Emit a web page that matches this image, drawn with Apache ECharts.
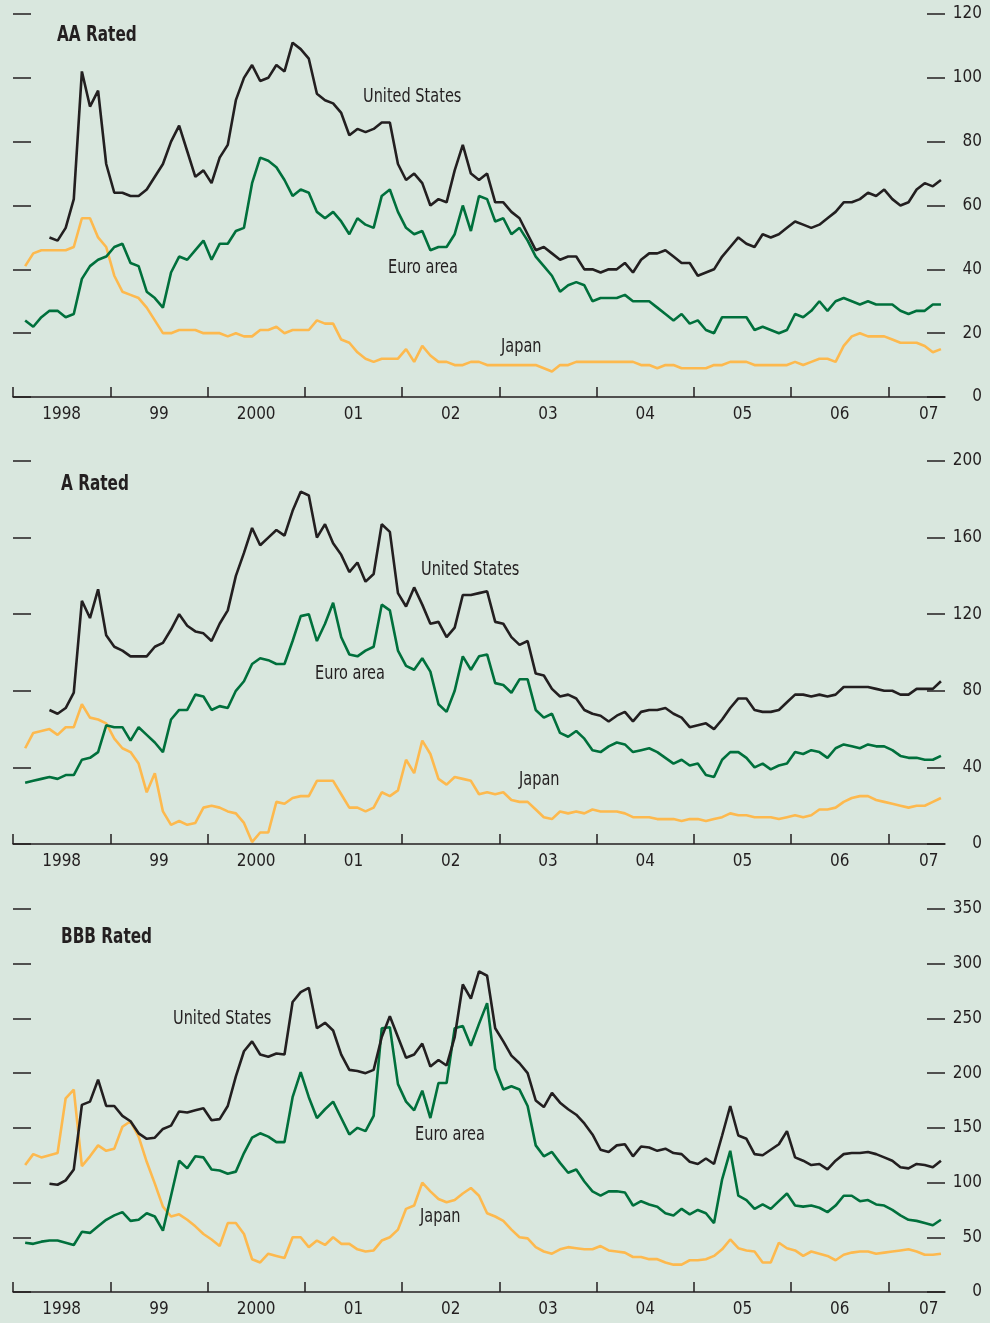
<!DOCTYPE html>
<html>
<head>
<meta charset="utf-8">
<script src="https://cdn.jsdelivr.net/npm/echarts@6.0.0/dist/echarts.min.js"></script>
<style>
  html, body { margin: 0; padding: 0; background: #d9e7de; }
  #chart { width: 990px; height: 1323px; }
</style>
</head>
<body>
<div id="chart"></div>
<script>
// months counted from Jan 1998 (0) to Jul 2007 (114)
const yearLabels = ['1998', '99', '2000', '01', '02', '03', '04', '05', '06', '07'];
const yearLabelPos = [6, 18, 30, 42, 54, 66, 78, 90, 102, 113];
const yearTicks = [0, 12, 24, 36, 48, 60, 72, 84, 96, 108];

// US series start May 1998 (index 4), euro and japan start Feb 1998 (index 1)
const usStart = 4;
const otherStart = 1;

// AA rated
const usAA = [50, 49, 53, 62, 102, 91, 96, 73, 64, 64,
  63, 63, 65, 69, 73, 80, 85, 77, 69, 71,
  67, 75, 79, 93, 100, 104, 99, 100, 104, 102,
  111, 109, 106, 95, 93, 92, 89, 82, 84, 83,
  84, 86, 86, 73, 68, 70, 67, 60, 62, 61,
  71, 79, 70, 68, 70, 61, 61, 58, 56, 51,
  46, 47, 45, 43, 44, 44, 40, 40, 39, 40,
  40, 42, 39, 43, 45, 45, 46, 44, 42, 42,
  38, 39, 40, 44, 47, 50, 48, 47, 51, 50,
  51, 53, 55, 54, 53, 54, 56, 58, 61, 61,
  62, 64, 63, 65, 62, 60, 61, 65, 67, 66, 68];
const euroAA = [24, 22, 25, 27, 27, 25, 26, 37, 41, 43,
  44, 47, 48, 42, 41, 33, 31, 28, 39, 44,
  43, 46, 49, 43, 48, 48, 52, 53, 67, 75,
  74, 72, 68, 63, 65, 64, 58, 56, 58, 55,
  51, 56, 54, 53, 63, 65, 58, 53, 51, 52,
  46, 47, 47, 51, 60, 52, 63, 62, 55, 56,
  51, 53, 49, 44, 41, 38, 33, 35, 36, 35,
  30, 31, 31, 31, 32, 30, 30, 30, 28, 26,
  24, 26, 23, 24, 21, 20, 25, 25, 25, 25,
  21, 22, 21, 20, 21, 26, 25, 27, 30, 27,
  30, 31, 30, 29, 30, 29, 29, 29, 27, 26,
  27, 27, 29, 29];
const japanAA = [41, 45, 46, 46, 46, 46, 47, 56, 56, 50,
  47, 38, 33, 32, 31, 28, 24, 20, 20, 21,
  21, 21, 20, 20, 20, 19, 20, 19, 19, 21,
  21, 22, 20, 21, 21, 21, 24, 23, 23, 18,
  17, 14, 12, 11, 12, 12, 12, 15, 11, 16,
  13, 11, 11, 10, 10, 11, 11, 10, 10, 10,
  10, 10, 10, 10, 9, 8, 10, 10, 11, 11,
  11, 11, 11, 11, 11, 11, 10, 10, 9, 10,
  10, 9, 9, 9, 9, 10, 10, 11, 11, 11,
  10, 10, 10, 10, 10, 11, 10, 11, 12, 12,
  11, 16, 19, 20, 19, 19, 19, 18, 17, 17,
  17, 16, 14, 15];

// A rated
const usA = [70, 68, 71, 79, 127, 118, 133, 109, 103, 101,
  98, 98, 98, 103, 105, 112, 120, 114, 111, 110,
  106, 115, 122, 140, 152, 165, 156, 160, 164, 161,
  174, 184, 182, 160, 167, 157, 151, 142, 147, 137,
  141, 167, 163, 131, 124, 134, 125, 115, 116, 108,
  113, 130, 130, 131, 132, 116, 115, 108, 104, 106,
  89, 88, 81, 77, 78, 76, 70, 68, 67, 64,
  67, 69, 64, 69, 70, 70, 71, 68, 66, 61,
  62, 63, 60, 65, 71, 76, 76, 70, 69, 69,
  70, 74, 78, 78, 77, 78, 77, 78, 82, 82,
  82, 82, 81, 80, 80, 78, 78, 81, 81, 81, 85];
const euroA = [32, 33, 34, 35, 34, 36, 36, 44, 45, 48,
  62, 61, 61, 54, 61, 57, 53, 48, 65, 70,
  70, 78, 77, 70, 72, 71, 80, 85, 94, 97,
  96, 94, 94, 106, 119, 120, 106, 115, 126, 108,
  99, 98, 101, 103, 125, 122, 101, 93, 91, 97,
  90, 73, 69, 80, 98, 91, 98, 99, 84, 83,
  79, 86, 86, 70, 66, 68, 58, 56, 59, 55,
  49, 48, 51, 53, 52, 48, 49, 50, 48, 45,
  42, 44, 41, 42, 36, 35, 44, 48, 48, 45,
  40, 42, 39, 41, 42, 48, 47, 49, 48, 45,
  50, 52, 51, 50, 52, 51, 51, 49, 46, 45,
  45, 44, 44, 46];
const japanA = [50, 58, 59, 60, 57, 61, 61, 73, 66, 65,
  63, 55, 50, 48, 42, 27, 37, 17, 10, 12,
  10, 11, 19, 20, 19, 17, 16, 11, 1, 6,
  6, 22, 21, 24, 25, 25, 33, 33, 33, 26,
  19, 19, 17, 19, 27, 25, 28, 44, 37, 54,
  47, 34, 31, 35, 34, 33, 26, 27, 26, 27,
  23, 22, 22, 18, 14, 13, 17, 16, 17, 16,
  18, 17, 17, 17, 16, 14, 14, 14, 13, 13,
  13, 12, 13, 13, 12, 13, 14, 16, 15, 15,
  14, 14, 14, 13, 14, 15, 14, 15, 18, 18,
  19, 22, 24, 25, 25, 23, 22, 21, 20, 19,
  20, 20, 22, 24];

// BBB rated
const usBBB = [99, 98, 102, 112, 171, 174, 194, 170, 170, 161,
  156, 145, 140, 141, 149, 152, 165, 164, 166, 168,
  157, 158, 170, 197, 220, 229, 217, 215, 218, 217,
  265, 274, 278, 241, 246, 239, 217, 203, 202, 200,
  203, 233, 252, 233, 214, 217, 227, 206, 212, 207,
  233, 281, 268, 293, 289, 241, 229, 216, 209, 200,
  175, 169, 182, 173, 167, 162, 154, 144, 130, 128,
  134, 135, 124, 133, 132, 129, 131, 127, 126, 119,
  117, 122, 117, 143, 170, 143, 140, 126, 125, 130,
  135, 147, 123, 120, 116, 117, 112, 120, 126, 127,
  127, 128, 126, 123, 120, 114, 113, 117, 116, 114, 120];
const euroBBB = [45, 44, 46, 47, 47, 45, 43, 55, 54, 60,
  66, 70, 73, 65, 66, 72, 69, 56, 88, 120,
  113, 124, 123, 112, 111, 108, 110, 127, 141, 145,
  142, 137, 137, 178, 201, 178, 159, 167, 174, 159,
  144, 150, 147, 161, 241, 242, 190, 174, 166, 184,
  159, 191, 191, 241, 243, 225, 245, 264, 204, 185,
  188, 185, 170, 134, 124, 128, 118, 109, 112, 101,
  92, 88, 92, 92, 91, 79, 83, 80, 78, 72,
  70, 76, 71, 75, 72, 63, 103, 129, 88, 84,
  76, 80, 76, 83, 90, 79, 78, 79, 77, 73,
  79, 88, 88, 83, 84, 80, 79, 75, 70, 66,
  65, 63, 61, 66];
const japanBBB = [116, 126, 123, 125, 127, 177, 185, 115, 124, 134,
  129, 131, 151, 156, 142, 119, 99, 78, 69, 71,
  66, 60, 53, 48, 42, 63, 63, 53, 30, 27,
  35, 33, 31, 50, 50, 41, 47, 43, 50, 44,
  44, 39, 37, 38, 47, 50, 57, 76, 79, 100,
  92, 85, 82, 84, 90, 95, 88, 72, 69, 65,
  57, 50, 49, 41, 37, 35, 39, 41, 40, 39,
  39, 42, 38, 37, 36, 32, 32, 30, 30, 27,
  25, 25, 29, 29, 30, 33, 39, 48, 40, 38,
  37, 27, 27, 45, 40, 38, 33, 37, 35, 33,
  29, 34, 36, 37, 37, 35, 36, 37, 38, 39,
  37, 34, 34, 35];

const ink = '#231f20';
const usColor = '#231f20';
const euroColor = '#00703c';
const japanColor = '#fdb94e';
const font = '"DejaVu Sans Condensed", "DejaVu Sans", sans-serif';

function toPoints(start, values) {
  return values.map((v, i) => [start + i + 0.5, v]);
}

const panels = [
  {title: 'AA Rated', top: 14, max: 120, interval: 20, us: usAA, euro: euroAA, japan: japanAA,
    titlePos: [57, 36], usLabel: [363, 97], euroLabel: [388, 268], japanLabel: [501, 347]},
  {title: 'A Rated', top: 461, max: 200, interval: 40, us: usA, euro: euroA, japan: japanA,
    titlePos: [61, 485], usLabel: [421, 570], euroLabel: [315, 674], japanLabel: [519, 780]},
  {title: 'BBB Rated', top: 909, max: 350, interval: 50, us: usBBB, euro: euroBBB, japan: japanBBB,
    titlePos: [61, 938], usLabel: [173, 1019], euroLabel: [415, 1135], japanLabel: [420, 1217]}
];

const grid = [], xAxis = [], yAxis = [], series = [], graphic = [];

panels.forEach((p, i) => {
  grid.push({left: 13, right: 45, top: p.top, height: 383, outerBoundsMode: 'none'});
  xAxis.push({
    type: 'value', gridIndex: i, min: 0, max: 115,
    splitLine: {show: false},
    axisLine: {show: true, lineStyle: {color: ink, width: 1.5}},
    axisTick: {show: true, inside: true, length: 10, customValues: yearTicks, lineStyle: {color: ink, width: 1.5}},
    axisLabel: {
      customValues: yearLabelPos, margin: 9, color: ink, fontSize: 17, fontFamily: font,
      formatter: v => yearLabels[yearLabelPos.indexOf(v)] || ''
    }
  });
  // left axis: tick marks only
  yAxis.push({
    type: 'value', gridIndex: i, position: 'left', min: 0, max: p.max, interval: p.interval,
    splitLine: {show: false}, axisLine: {show: false},
    axisTick: {show: true, inside: true, length: 18, lineStyle: {color: ink, width: 1.5}},
    axisLabel: {show: false}
  });
  // right axis: tick marks and labels
  yAxis.push({
    type: 'value', gridIndex: i, position: 'right', min: 0, max: p.max, interval: p.interval,
    splitLine: {show: false}, axisLine: {show: false},
    axisTick: {show: true, inside: true, length: 18, lineStyle: {color: ink, width: 1.5}},
    axisLabel: {show: true, inside: false, margin: 37, align: 'right', color: ink, fontSize: 17, fontFamily: font}
  });
  const lines = [
    {name: 'Japan', start: otherStart, data: p.japan, color: japanColor},
    {name: 'Euro area', start: otherStart, data: p.euro, color: euroColor},
    {name: 'United States', start: usStart, data: p.us, color: usColor}
  ];
  lines.forEach(l => {
    series.push({
      name: l.name, type: 'line', xAxisIndex: i, yAxisIndex: i * 2 + 1,
      data: toPoints(l.start, l.data), symbol: 'none',
      lineStyle: {color: l.color, width: 2.6}, itemStyle: {color: l.color}
    });
  });
  graphic.push({type: 'text', x: p.titlePos[0], y: p.titlePos[1], scaleX: 0.81,
    style: {text: p.title, fill: ink, font: 'bold 21px ' + font, textVerticalAlign: 'middle'}});
  [['United States', p.usLabel], ['Euro area', p.euroLabel], ['Japan', p.japanLabel]].forEach(t => {
    graphic.push({type: 'text', x: t[1][0], y: t[1][1], scaleX: 0.85,
      style: {text: t[0], fill: ink, font: '19px ' + font, textVerticalAlign: 'middle'}});
  });
});

const chart = echarts.init(document.getElementById('chart'), null, {renderer: 'canvas'});
chart.setOption({
  backgroundColor: '#d9e7de',
  animation: false,
  grid, xAxis, yAxis, series, graphic
});
</script>
</body>
</html>
